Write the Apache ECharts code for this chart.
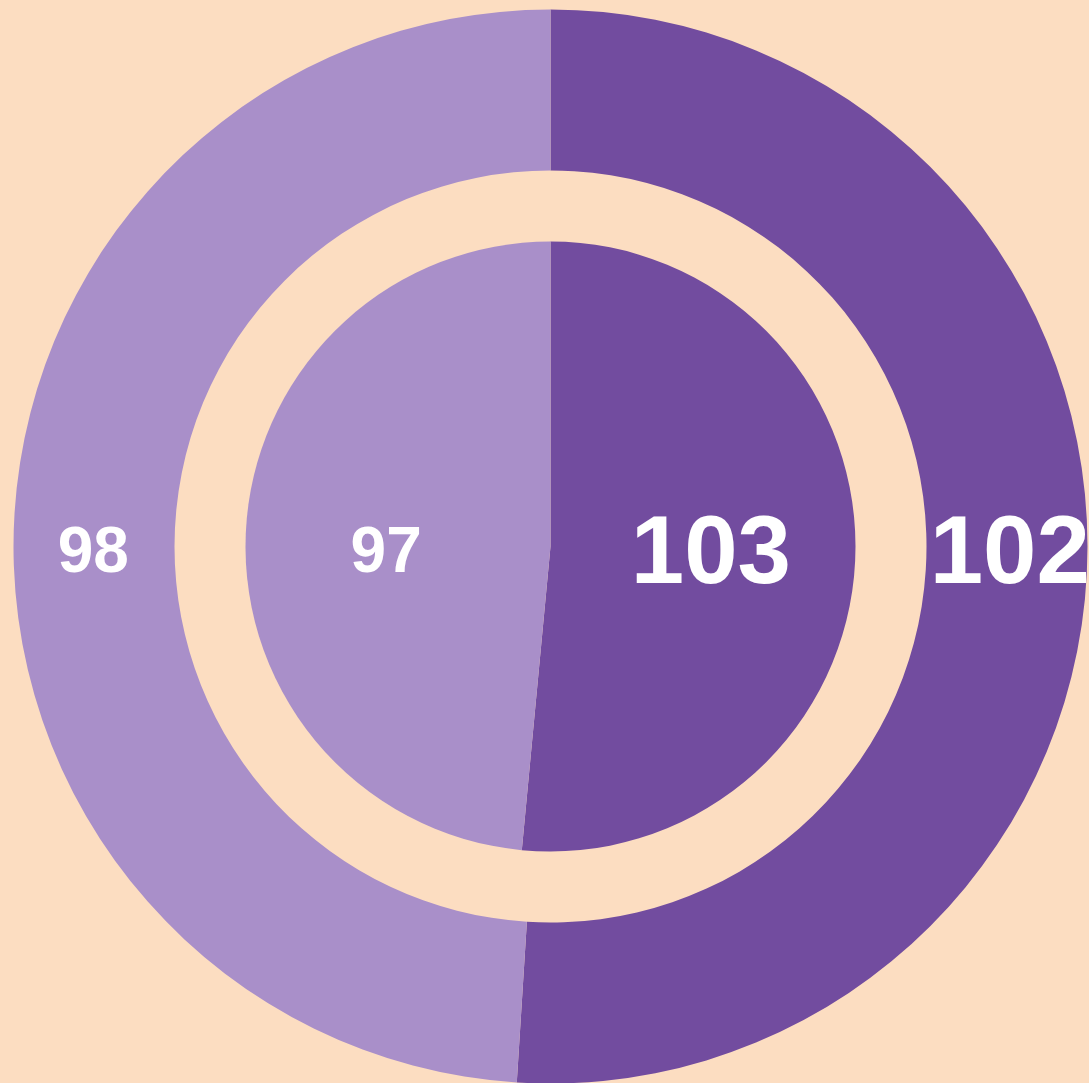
<!DOCTYPE html>
<html>
<head>
<meta charset="utf-8">
<script src="https://cdn.jsdelivr.net/npm/echarts@6/dist/echarts.min.js"></script>
<style>
  html, body { margin: 0; padding: 0; background: #fcddc1; }
  #chart { width: 1089px; height: 1083px; }
</style>
</head>
<body>
<div id="chart"></div>
<script>
// 内圈 / 外圈数据
const categories = ["A", "B"];
const innerValues = [103, 97];
const outerValues = [102, 98];
const colors = ["#724c9f", "#a98fc9"];
// 深色扇区标签大，浅色标签小
const labelSizes = [96, 64];
// 标签微调（让四个数字落在同一水平线上）
const innerOffsets = [[5, 3], [-9, 15]];
const outerOffsets = [[0, -4], [2, 22]];

function buildData(values, offsets) {
  return values.map((v, i) => ({
    name: categories[i],
    value: v,
    itemStyle: { color: colors[i] },
    label: { fontSize: labelSizes[i], offset: offsets[i] },
  }));
}

const chart = echarts.init(document.getElementById("chart"));

const pieBase = {
  type: "pie",
  center: [550.5, 546.5],
  startAngle: 90,
  clockwise: true,
  animation: false,
  silent: true,
  label: {
    show: true,
    position: "inside",
    formatter: "{c}",
    color: "#fff",
    fontWeight: "bold",
    fontFamily: "'Liberation Sans', sans-serif",
  },
  labelLine: { show: false },
  itemStyle: { borderWidth: 0 },
  emphasis: { disabled: true },
};

chart.setOption({
  backgroundColor: "#fcddc1",
  series: [
    Object.assign({}, pieBase, {
      name: "outer",
      radius: [376, 537],
      data: buildData(outerValues, outerOffsets),
    }),
    Object.assign({}, pieBase, {
      name: "inner",
      radius: [0, 305],
      data: buildData(innerValues, innerOffsets),
    }),
  ],
});
</script>
</body>
</html>
